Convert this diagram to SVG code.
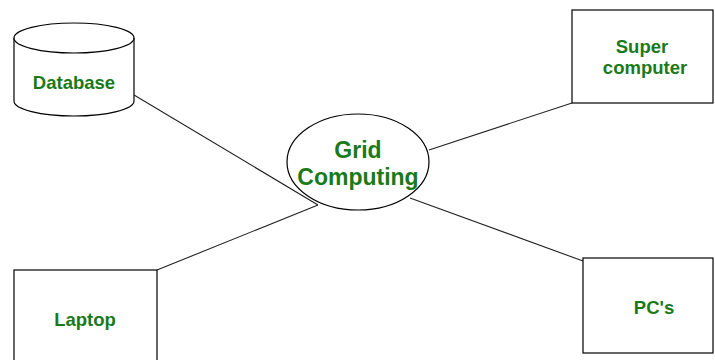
<svg xmlns="http://www.w3.org/2000/svg" width="715" height="360" viewBox="0 0 715 360">
<style>
.shape{fill:#ffffff;stroke:#000000;stroke-width:1.2}
.conn{stroke:#222222;stroke-width:1.1;fill:none}
.lbl{font-family:"Liberation Sans",Arial,sans-serif;font-weight:bold;fill:#1a7a1a;text-anchor:middle}
.s{font-size:18.5px}
.l{font-size:23px}
</style>
<rect width="715" height="360" fill="#ffffff"/>
<g id="grid">
<ellipse class="shape" cx="358" cy="162" rx="71" ry="48"/>
<text class="lbl l" x="358" y="158">Grid</text>
<text class="lbl l" x="358" y="185">Computing</text>
</g>
<g id="connectors">
<line class="conn" x1="134" y1="95" x2="318" y2="205"/>
<line class="conn" x1="157" y1="270" x2="318" y2="205"/>
<line class="conn" x1="572" y1="103" x2="429" y2="150"/>
<line class="conn" x1="583" y1="261" x2="410" y2="198"/>
</g>
<g id="database">
<path class="shape" d="M14,38 L14,101 A60,15 0 0 0 134,101 L134,38"/>
<ellipse class="shape" cx="74" cy="38" rx="60" ry="15"/>
<text class="lbl s" x="74" y="89">Database</text>
</g>
<g id="supercomputer">
<rect class="shape" x="572" y="10" width="141" height="93"/>
<text class="lbl s" x="642" y="53">Super</text>
<text class="lbl s" x="645" y="74">computer</text>
</g>
<g id="laptop">
<rect class="shape" x="14" y="270" width="143" height="100"/>
<text class="lbl s" x="85" y="326">Laptop</text>
</g>
<g id="pcs">
<rect class="shape" x="583" y="258" width="130" height="95"/>
<text class="lbl s" x="654" y="314">PC's</text>
</g>
</svg>
